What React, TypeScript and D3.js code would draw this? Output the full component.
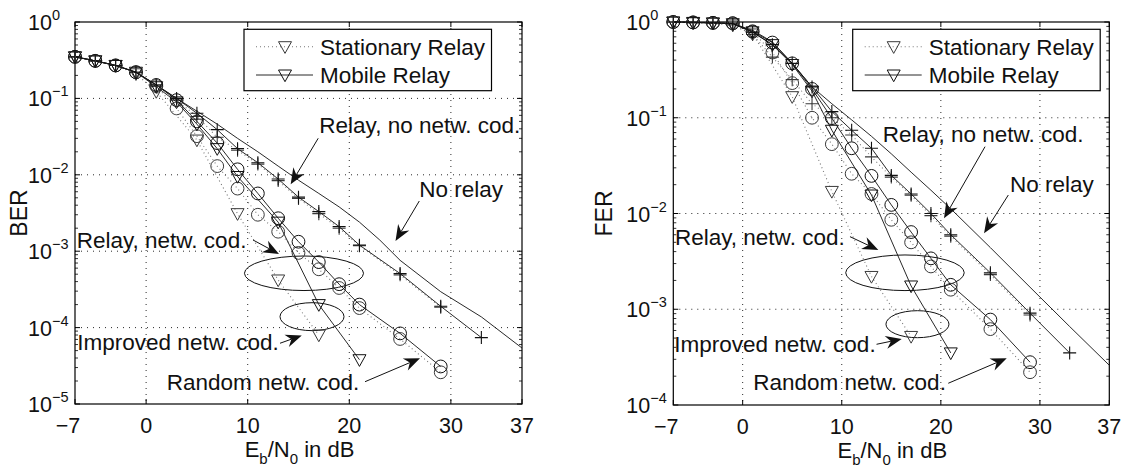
import * as d3 from "d3";

const W = 1127;
const H = 470;
const FONT = '"Liberation Sans", Arial, Helvetica, sans-serif';

// Eb/N0 grids (dB)
const snrAll = [-7, -5, -3, -1, 1, 3, 5, 7, 9, 11, 13, 15, 17, 19, 21, 25, 29, 33];
const snrTo29 = [-7, -5, -3, -1, 1, 3, 5, 7, 9, 11, 13, 15, 17, 19, 21, 25, 29];
const snrTriMob = [-7, -5, -3, -1, 1, 3, 5, 7, 9, 13, 17, 21];
const snrTriStat = [-7, -5, -3, -1, 1, 5, 9, 13, 17];
const snrNoRelayBer = [-7, -5, -3, -1, 1, 3, 5, 7, 9, 11, 13, 15, 17, 19, 21, 23, 25, 29, 33, 37];
const snrNoRelayFer = [-7, -5, -3, -1, 1, 3, 5, 7, 9, 11, 13, 15, 17, 19, 21, 25, 29, 33, 37];
const xTicks = [-7, 0, 10, 20, 30, 37];

// BER (left)
const berNoRelay = [0.35, 0.31, 0.27, 0.22, 0.15, 0.1, 0.068, 0.046, 0.03, 0.02, 0.013, 0.0085, 0.0057, 0.0038, 0.0024, 0.0014, 7.6e-4, 2.95e-4, 1.38e-4, 5.4e-5];
const berPlusMob = [0.35, 0.31, 0.27, 0.22, 0.15, 0.1, 0.064, 0.039, 0.022, 0.0144, 0.0088, 0.0051, 0.0033, 0.0021, 0.0012, 5.1e-4, 1.9e-4, 7.4e-5];
const berPlusStat = [0.35, 0.31, 0.27, 0.22, 0.15, 0.095, 0.058, 0.031, 0.021, 0.0138, 0.0084, 0.0049, 0.0031, 0.002, 0.00118, 4.9e-4, 1.85e-4];
const berCircMob = [0.35, 0.31, 0.27, 0.22, 0.15, 0.095, 0.05, 0.026, 0.0118, 0.0057, 0.0027, 0.00133, 7.2e-4, 3.7e-4, 2.0e-4, 8.4e-5, 3.1e-5];
const berCircStat = [0.35, 0.31, 0.27, 0.22, 0.145, 0.074, 0.032, 0.013, 0.0066, 0.003, 0.0018, 9.5e-4, 5.8e-4, 3.3e-4, 1.8e-4, 7.1e-5, 2.6e-5];
const berTriMob = [0.35, 0.31, 0.27, 0.22, 0.142, 0.09, 0.046, 0.022, 0.0095, 0.0024, 2.0e-4, 3.8e-5];
const berTriStat = [0.35, 0.31, 0.27, 0.21, 0.123, 0.0285, 0.0031, 4.2e-4, 8.0e-5];

// FER (right)
const ferNoRelay = [1, 0.99, 0.98, 0.96, 0.82, 0.62, 0.37, 0.21, 0.14, 0.095, 0.064, 0.042, 0.027, 0.0175, 0.0112, 0.0044, 0.0017, 6.6e-4, 2.6e-4];
const ferPlusMob = [1, 0.99, 0.98, 0.96, 0.78, 0.58, 0.37, 0.21, 0.116, 0.074, 0.048, 0.025, 0.016, 0.01, 0.006, 0.0024, 9.1e-4, 3.5e-4];
const ferPlusStat = [1, 0.98, 0.98, 0.93, 0.74, 0.43, 0.25, 0.14, 0.1, 0.066, 0.039, 0.024, 0.0155, 0.0095, 0.0058, 0.0023, 8.7e-4];
const ferCircMob = [1, 0.99, 0.98, 0.97, 0.8, 0.61, 0.37, 0.2, 0.099, 0.048, 0.0247, 0.0123, 0.0064, 0.0034, 0.0018, 7.8e-4, 2.8e-4];
const ferCircStat = [1, 0.99, 0.98, 0.97, 0.79, 0.48, 0.23, 0.1, 0.053, 0.026, 0.016, 0.0086, 0.005, 0.0028, 0.0016, 6.2e-4, 2.2e-4];
const ferTriMob = [1, 0.99, 0.98, 0.96, 0.79, 0.58, 0.36, 0.19, 0.074, 0.0156, 0.00175, 3.5e-4];
const ferTriStat = [1, 0.98, 0.97, 0.93, 0.75, 0.166, 0.017, 0.0022, 5.2e-4];

const legendLabels = ["Stationary Relay", "Mobile Relay"];

type Series = { x: number[]; y: number[]; marker: string; stat: boolean };
type Note = { text: string; tx: number; te: number; a0: [number, number]; a1: [number, number] };
type Ell = { cx: number; ce: number; rx: number; re: number };

const berSeries: Series[] = [
  { x: snrNoRelayBer, y: berNoRelay, marker: "none", stat: false },
  { x: snrTo29, y: berPlusStat, marker: "plus", stat: true },
  { x: snrAll, y: berPlusMob, marker: "plus", stat: false },
  { x: snrTo29, y: berCircStat, marker: "circle", stat: true },
  { x: snrTo29, y: berCircMob, marker: "circle", stat: false },
  { x: snrTriStat, y: berTriStat, marker: "tri", stat: true },
  { x: snrTriMob, y: berTriMob, marker: "tri", stat: false },
];

const ferSeries: Series[] = [
  { x: snrNoRelayFer, y: ferNoRelay, marker: "none", stat: false },
  { x: snrTo29, y: ferPlusStat, marker: "plus", stat: true },
  { x: snrAll, y: ferPlusMob, marker: "plus", stat: false },
  { x: snrTo29, y: ferCircStat, marker: "circle", stat: true },
  { x: snrTo29, y: ferCircMob, marker: "circle", stat: false },
  { x: snrTriStat, y: ferTriStat, marker: "tri", stat: true },
  { x: snrTriMob, y: ferTriMob, marker: "tri", stat: false },
];

// annotations: x in dB, y as log10 exponent
const berNotes: Note[] = [
  { text: "Relay, no netw. cod.", tx: 17.05, te: -1.453, a0: [16.94, -1.522], a1: [14.23, -2.124] },
  { text: "No relay", tx: 26.89, te: -2.29, a0: [26.89, -2.343], a1: [24.55, -2.866] },
  { text: "Relay, netw. cod.", tx: -6.83, te: -2.958, a0: [10.52, -2.853], a1: [13.08, -3.037] },
  { text: "Improved netw. cod.", tx: -6.77, te: -4.293, a0: [13.18, -4.205], a1: [15.32, -4.103] },
  { text: "Random netw. cod.", tx: 2.03, te: -4.817, a0: [21.55, -4.708], a1: [26.96, -4.402] },
];
const ferNotes: Note[] = [
  { text: "Relay, no netw. cod.", tx: 14.13, te: -1.25, a0: [24.46, -1.302], a1: [20.32, -2.05] },
  { text: "No relay", tx: 26.98, te: -1.772, a0: [26.81, -1.807], a1: [24.36, -2.207] },
  { text: "Relay, netw. cod.", tx: -6.83, te: -2.329, a0: [10.83, -2.242], a1: [13.69, -2.381] },
  { text: "Improved netw. cod.", tx: -6.9, te: -3.443, a0: [13.51, -3.366], a1: [16.05, -3.311] },
  { text: "Random netw. cod.", tx: 1.07, te: -3.843, a0: [20.75, -3.773], a1: [26.65, -3.512] },
];
const berEllipses: Ell[] = [
  { cx: 15.54, ce: -3.289, rx: 5.86, re: 0.226 },
  { cx: 16.33, ce: -3.857, rx: 3.15, re: 0.183 },
];
const ferEllipses: Ell[] = [
  { cx: 16.38, ce: -2.619, rx: 5.98, re: 0.186 },
  { cx: 17.64, ce: -3.156, rx: 3.18, re: 0.141 },
];

const Marker = ({ kind, cx, cy, color }: { kind: string; cx: number; cy: number; color: string }) => {
  if (kind === "circle") return <circle cx={cx} cy={cy} r={6.4} fill="none" stroke={color} strokeWidth={1} />;
  if (kind === "plus")
    return (
      <path d={`M${cx - 6.5},${cy}H${cx + 6.5}M${cx},${cy - 6.5}V${cy + 6.5}`} stroke={color} strokeWidth={1.1} />
    );
  if (kind === "tri")
    return (
      <path d={`M${cx - 6.5},${cy - 5}L${cx + 6.5},${cy - 5}L${cx},${cy + 6.7}Z`} fill="none" stroke={color} strokeWidth={1} />
    );
  return null;
};

const Arrow = ({ x0, y0, x1, y1 }: { x0: number; y0: number; x1: number; y1: number }) => {
  const a = Math.atan2(y1 - y0, x1 - x0);
  const len = 16, hw = 6.5, notch = 11;
  const ux = Math.cos(a), uy = Math.sin(a);
  const bx = x1 - ux * len, by = y1 - uy * len;
  const nx = x1 - ux * notch, ny = y1 - uy * notch;
  const head = `M${x1},${y1}L${bx - uy * hw},${by + ux * hw}L${nx},${ny}L${bx + uy * hw},${by - ux * hw}Z`;
  return (
    <g>
      <line x1={x0} y1={y0} x2={nx} y2={ny} stroke="#111" strokeWidth={1} />
      <path d={head} fill="#111" />
    </g>
  );
};

type PanelProps = {
  frame: { l: number; r: number; t: number; b: number };
  minExp: number;
  yLabel: string;
  yLabelX: number;
  series: Series[];
  notes: Note[];
  ellipses: Ell[];
  legendX: number;
};

const Panel = ({ frame, minExp, yLabel, yLabelX, series, notes, ellipses, legendX }: PanelProps) => {
  const { l, r, t, b } = frame;
  const x = d3.scaleLinear().domain([-7, 37]).range([l, r]);
  const y = d3.scaleLog().domain([10 ** minExp, 1]).range([b, t]);
  const line = d3
    .line<[number, number]>()
    .x((d) => x(d[0]))
    .y((d) => y(d[1]));
  const decades = d3.range(minExp, 1);
  const minors: number[] = [];
  decades.slice(0, -1).forEach((e) => {
    for (let k = 2; k <= 9; k++) minors.push(k * 10 ** e);
  });
  const ye = (e: number) => y(10 ** e);

  return (
    <g>
      {/* grid */}
      {decades
        .filter((e) => e !== minExp && e !== 0)
        .map((e) => (
          <line key={"gy" + e} x1={l} x2={r} y1={ye(e)} y2={ye(e)} stroke="#111" strokeWidth={0.9} strokeDasharray="1,5" />
        ))}
      {xTicks
        .filter((v) => v !== -7 && v !== 37)
        .map((v) => (
          <line key={"gx" + v} x1={x(v)} x2={x(v)} y1={t} y2={b} stroke="#111" strokeWidth={0.9} strokeDasharray="1,5" />
        ))}
      {/* ticks */}
      {decades.map((e) => (
        <g key={"ty" + e}>
          <line x1={l} x2={l + 5} y1={ye(e)} y2={ye(e)} stroke="#000" />
          <line x1={r} x2={r - 5} y1={ye(e)} y2={ye(e)} stroke="#000" />
          <text x={l - 47} y={ye(e) + 8} fontSize={21.5} fill="#111">
            10
            <tspan dy={-10} fontSize={14.5}>
              {e === 0 ? "0" : "\u2212" + -e}
            </tspan>
          </text>
        </g>
      ))}
      {minors.map((v, i) => (
        <g key={"my" + i}>
          <line x1={l} x2={l + 3} y1={y(v)} y2={y(v)} stroke="#000" strokeWidth={0.8} />
          <line x1={r} x2={r - 3} y1={y(v)} y2={y(v)} stroke="#000" strokeWidth={0.8} />
        </g>
      ))}
      {xTicks.map((v) => (
        <g key={"tx" + v}>
          <line x1={x(v)} x2={x(v)} y1={b} y2={b - 5} stroke="#000" />
          <line x1={x(v)} x2={x(v)} y1={t} y2={t + 5} stroke="#000" />
          <text x={x(v) + (v < 0 ? -7 : 0)} y={b + 29} fontSize={21.5} textAnchor="middle" fill="#111">
            {v < 0 ? "\u2212" + -v : v}
          </text>
        </g>
      ))}
      <rect x={l} y={t} width={r - l} height={b - t} fill="none" stroke="#000" strokeWidth={1.2} />

      {/* ellipses */}
      {ellipses.map((el, i) => (
        <ellipse
          key={"el" + i}
          cx={x(el.cx)}
          cy={ye(el.ce)}
          rx={x(el.cx + el.rx) - x(el.cx)}
          ry={ye(el.ce - el.re) - ye(el.ce)}
          fill="none"
          stroke="#111"
          strokeWidth={1}
        />
      ))}

      {/* series */}
      {series.map((s, i) => {
        const pts = s.x.map((v, j) => [v, s.y[j]] as [number, number]);
        return (
          <g key={"s" + i}>
            <path
              d={line(pts) || ""}
              fill="none"
              stroke={s.stat ? "#777" : "#111"}
              strokeWidth={s.stat ? 1.1 : 0.9}
              strokeDasharray={s.stat ? "1,3" : undefined}
            />
            {pts.map((p, j) => (
              <Marker key={j} kind={s.marker} cx={x(p[0])} cy={y(p[1])} color={s.stat ? "#3a3a3a" : "#111"} />
            ))}
          </g>
        );
      })}

      {/* annotations */}
      {notes.map((n, i) => (
        <g key={"n" + i}>
          <text x={x(n.tx)} y={ye(n.te)} fontSize={22.5} fill="#111">
            {n.text}
          </text>
          <Arrow x0={x(n.a0[0])} y0={ye(n.a0[1])} x1={x(n.a1[0])} y1={ye(n.a1[1])} />
        </g>
      ))}

      {/* legend */}
      <g transform={`translate(${legendX},${t + 7.3})`}>
        <rect x={0} y={0} width={247.5} height={61.4} fill="#fff" stroke="#000" strokeWidth={1.2} />
        {legendLabels.map((lab, i) => {
          const ry = 17.4 + i * 28.3;
          return (
            <g key={lab}>
              <line
                x1={12}
                x2={69}
                y1={ry}
                y2={ry}
                stroke={i === 0 ? "#777" : "#111"}
                strokeWidth={i === 0 ? 1.1 : 0.9}
                strokeDasharray={i === 0 ? "1,3" : undefined}
              />
              <Marker kind="tri" cx={41} cy={ry} color={i === 0 ? "#3a3a3a" : "#111"} />
              <text x={76} y={ry + 8} fontSize={22.5} fill="#111">
                {lab}
              </text>
            </g>
          );
        })}
      </g>

      {/* axis labels */}
      <text transform={`translate(${yLabelX},${(t + b) / 2}) rotate(-90)`} fontSize={23} textAnchor="middle" dy="0.35em" fill="#111">
        {yLabel}
      </text>
      <text x={(l + r) / 2 + 1} y={b + 53} fontSize={22} textAnchor="middle" fill="#111">
        E<tspan dy={7} fontSize={15}>b</tspan>
        <tspan dy={-7}>/N</tspan>
        <tspan dy={7} fontSize={15}>0</tspan>
        <tspan dy={-7}> in dB</tspan>
      </text>
    </g>
  );
};

export default function App() {
  return (
    <svg
      width={W}
      height={H}
      style={{ position: "absolute", left: 0, top: 0, background: "#fff", fontFamily: FONT }}
    >
      <rect width={W} height={H} fill="#fff" />
      <Panel
        frame={{ l: 75, r: 522, t: 22, b: 404 }}
        minExp={-5}
        yLabel="BER"
        yLabelX={19}
        series={berSeries}
        notes={berNotes}
        ellipses={berEllipses}
        legendX={244}
      />
      <Panel
        frame={{ l: 673.3, r: 1109.3, t: 22, b: 405 }}
        minExp={-4}
        yLabel="FER"
        yLabelX={604}
        series={ferSeries}
        notes={ferNotes}
        ellipses={ferEllipses}
        legendX={852.7}
      />
    </svg>
  );
}
